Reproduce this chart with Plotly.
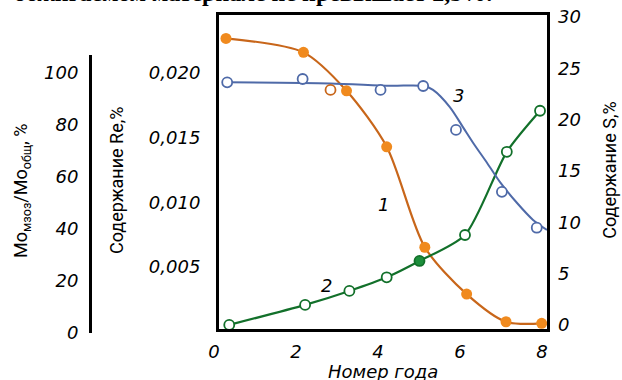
import plotly.graph_objects as go

# ---- data ----
years_tick = [0, 2, 4, 6, 8]
re_ticks = [0.005, 0.010, 0.015, 0.020]
re_ticktext = ["0,005", "0,010", "0,015", "0,020"]
s_ticks = [0, 5, 10, 15, 20, 25, 30]
mo_ticks = [0, 20, 40, 60, 80, 100]

# curve 1 : Re content, %
re_x = [0.17, 2.06, 3.11, 4.09, 5.02, 6.04, 7.0, 7.87]
re_y = [0.02268, 0.02160, 0.01863, 0.01430, 0.00653, 0.00291, 0.00077, 0.00065]

# curve 2 : S content, %
s_x = [0.25, 2.10, 3.18, 4.09, 4.89, 6.00, 7.02, 7.83]
s_y = [0.0, 1.95, 3.31, 4.64, 6.23, 8.76, 16.87, 20.87]
s_filled = [False, False, False, False, True, False, False, False]

# curve 3 : Mo ratio, % (measured points)
mo_x = [0.20, 2.04, 2.72, 3.94, 4.98, 5.78, 6.90, 7.75]
mo_y = [96.4, 97.7, 93.5, 93.5, 95.0, 78.1, 54.3, 40.5]
mo_orange = [False, False, True, False, False, False, False, False]
# curve 3 : smoothed line
mo_line_x = [0.20, 2.71, 4.17, 5.00, 5.22, 5.63, 5.95, 6.20, 6.54, 6.85, 7.27, 7.66, 8.0]
mo_line_y = [96.4, 96.0, 95.1, 95.0, 93.5, 86.9, 79.2, 73.1, 65.4, 58.1, 50.0, 43.5, 39.6]

ORANGE_LINE = "#C8661A"
ORANGE_DOT = "#F08A1E"
BLUE = "#4F6AA8"
GREEN = "#12702A"
GREEN_DOT = "#1C8F3C"

fig = go.Figure()

fig.add_trace(go.Scatter(
    x=re_x, y=re_y, mode="lines+markers", yaxis="y",
    line=dict(color=ORANGE_LINE, width=2.2, shape="spline", smoothing=0.8),
    marker=dict(color=ORANGE_DOT, size=11, line=dict(width=0)),
    showlegend=False, hoverinfo="skip"))

fig.add_trace(go.Scatter(
    x=s_x, y=s_y, mode="lines+markers", yaxis="y2",
    line=dict(color=GREEN, width=2.2, shape="spline", smoothing=0.7),
    marker=dict(color=[GREEN_DOT if f else "white" for f in s_filled], size=10,
                line=dict(color=GREEN, width=1.8)),
    showlegend=False, hoverinfo="skip"))

fig.add_trace(go.Scatter(
    x=mo_line_x, y=mo_line_y, mode="lines", yaxis="y3", xaxis="x",
    line=dict(color=BLUE, width=2, shape="spline", smoothing=0.8),
    showlegend=False, hoverinfo="skip"))
fig.add_trace(go.Scatter(
    x=mo_x, y=mo_y, mode="markers", yaxis="y3", xaxis="x",
    marker=dict(color="white", size=10,
                line=dict(color=[ORANGE_LINE if o else BLUE for o in mo_orange], width=1.8)),
    showlegend=False, hoverinfo="skip"))

tickfont = dict(family="DejaVu Sans", size=18, color="black", style="italic")
title_font = dict(family="Roboto", size=18, color="black")

fig.update_layout(
    width=622, height=380, autosize=False,
    margin=dict(l=10, r=75, t=15, b=47, pad=0, autoexpand=False),
    paper_bgcolor="white", plot_bgcolor="rgba(0,0,0,0)",
    xaxis=dict(domain=[0.3892, 1], range=[0, 8], tickvals=years_tick,
               showline=True, linewidth=3, linecolor="black", mirror=True,
               ticks="", showgrid=False, zeroline=False, anchor="y", automargin=False,
               tickfont=tickfont, ticklabelshift=-5, ticklabelstandoff=4),
    yaxis=dict(domain=[0.0126, 1], range=[0.00021, 0.02449],
               tickvals=re_ticks, ticktext=re_ticktext, automargin=False,
               showline=True, linewidth=3, linecolor="black", mirror=True,
               ticks="", showgrid=False, zeroline=False, tickfont=tickfont,
               ticklabelstandoff=12),
    yaxis2=dict(overlaying="y", side="right", anchor="x", range=[-0.4, 30.2],
                tickvals=s_ticks, showline=False, ticks="", showgrid=False,
                zeroline=False, tickfont=tickfont, ticklabelstandoff=10, automargin=False),
    yaxis3=dict(domain=[0, 0.874], range=[0, 106.9], anchor="free", position=0.149,
                side="left", tickvals=mo_ticks, showline=True, linewidth=3,
                linecolor="black", ticks="", showgrid=False, zeroline=False,
                tickfont=tickfont, ticklabelstandoff=7, automargin=False),
)

annotations = [
    dict(text="1", x=4.0, y=0.0098, xref="x", yref="y", showarrow=False, font=tickfont),
    dict(text="2", x=2.63, y=0.00361, xref="x", yref="y", showarrow=False, font=tickfont),
    dict(text="3", x=5.83, y=0.0183, xref="x", yref="y", showarrow=False, font=tickfont),
    dict(text="Номер года", x=0.6946, y=-0.1226, xref="paper", yref="paper",
         xanchor="center", yanchor="middle", showarrow=False, font=tickfont),
    dict(text="Mo<sub>мзоз</sub>/Mo<sub>общ</sub>, %", x=0.0223, y=0.4465, xref="paper", yref="paper",
         xanchor="center", yanchor="middle", textangle=-90, showarrow=False,
         font=dict(family="Roboto", size=18, color="black")),
    dict(text="Содержание Re,%", x=0.1993, y=0.478, xref="paper", yref="paper",
         xanchor="center", yanchor="middle", textangle=-90, showarrow=False, font=title_font),
    dict(text="Содержание S,%", x=1.117, y=0.5126, xref="paper", yref="paper",
         xanchor="center", yanchor="middle", textangle=-90, showarrow=False, font=title_font),
    dict(text="обжигаемом материале не превышает 2,5%.", x=0.0037, y=1.022,
         xref="paper", yref="paper", xanchor="left", yanchor="bottom", showarrow=False,
         font=dict(family="Liberation Serif", size=24, color="black", weight="bold")),
]
fig.update_layout(annotations=annotations)

fig.write_html("out.html", config={"displayModeBar": False},
               post_script="document.body.style.margin='0';")
